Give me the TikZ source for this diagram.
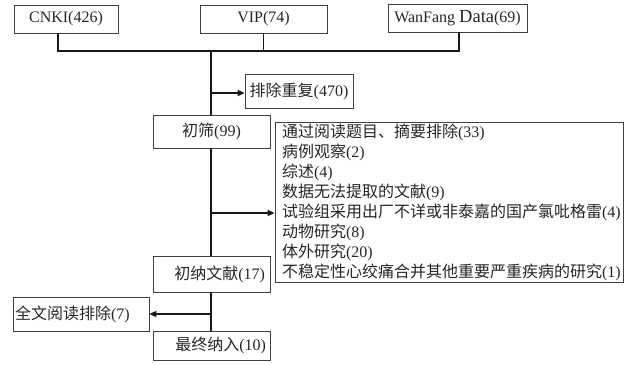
\documentclass[tikz,border=0pt]{standalone}
\usepackage{fontspec}
\setmainfont{Liberation Serif}
\newfontfamily\cjk{Noto Sans CJK SC}
\newcommand\zh[1]{{\cjk #1}}
\usetikzlibrary{arrows.meta}
\begin{document}
\begin{tikzpicture}[x=1pt,y=-1pt,
  box/.style={draw=black!75,line width=0.8pt,text=black!85,inner sep=0pt,font=\fontsize{16}{20}\selectfont},
  conn/.style={line width=1.8pt,black!90},
  arr/.style={conn,-{Triangle[length=7pt,width=6pt]}}]
\useasboundingbox (0,0) rectangle (628,364);
\node[box,minimum width=104pt,minimum height=28pt] (cnki) at (66,19) {CNKI(426)};
\node[box,minimum width=127pt,minimum height=28pt] (vip) at (263.5,19) {VIP(74)};
\node[box,minimum width=139pt,minimum height=28pt] (wf) at (457.5,18) {WanFang {\fontsize{18.5}{20}\selectfont Data}(69)};
\node[box,minimum width=108pt,minimum height=34pt] (pc) at (299,91) {\zh{排除重复}(470)};
\node[box,minimum width=117pt,minimum height=33pt] (cs) at (211.5,131.5) {\zh{初筛}(99)};
\node[box,minimum width=348pt,minimum height=160pt,text width=334pt,inner xsep=7pt,align=left] (big) at (449,202) {%
\zh{通过阅读题目、摘要排除}(33)\\
\zh{病例观察}(2)\\
\zh{综述}(4)\\
\zh{数据无法提取的文献}(9)\\
\zh{试验组采用出厂不详或非泰嘉的国产氯吡格雷}(4)\\
\zh{动物研究}(8)\\
\zh{体外研究}(20)\\
\zh{不稳定性心绞痛合并其他重要严重疾病的研究}(1)};
\node[box,minimum width=117pt,minimum height=36pt,text width=107pt,inner xsep=5pt,align=right] (cn) at (211.5,274) {\zh{初纳文献}(17)};
\node[box,minimum width=136pt,minimum height=34pt,text width=132pt,inner xsep=2pt,align=left] (qw) at (81,314) {\zh{全文阅读排除}(7)};
\node[box,minimum width=117pt,minimum height=29pt,text width=109pt,inner xsep=4pt,align=right] (zz) at (211.5,345.5) {\zh{最终纳入}(10)};
\coordinate (j1) at (58,51);
\coordinate (jm) at (211,51);
\coordinate (j3) at (459,51);
\coordinate (b1) at (211,93);
\coordinate (b2) at (211,213);
\coordinate (b3) at (211,314);
\draw[conn] (j1 |- cnki.south) -- (j1) -- (j3) -- (j3 |- wf.south);
\draw[conn] (vip.south) -- (vip.south |- j1);
\draw[conn] (jm) -- (jm |- cs.north);
\draw[conn] (jm |- cs.south) -- (jm |- cn.north);
\draw[conn] (jm |- cn.south) -- (jm |- zz.north);
\draw[arr] (b1) -- (b1 -| pc.west);
\draw[arr] (b2) -- (b2 -| big.west);
\draw[arr] (b3) -- (qw.east);
\end{tikzpicture}
\end{document}
